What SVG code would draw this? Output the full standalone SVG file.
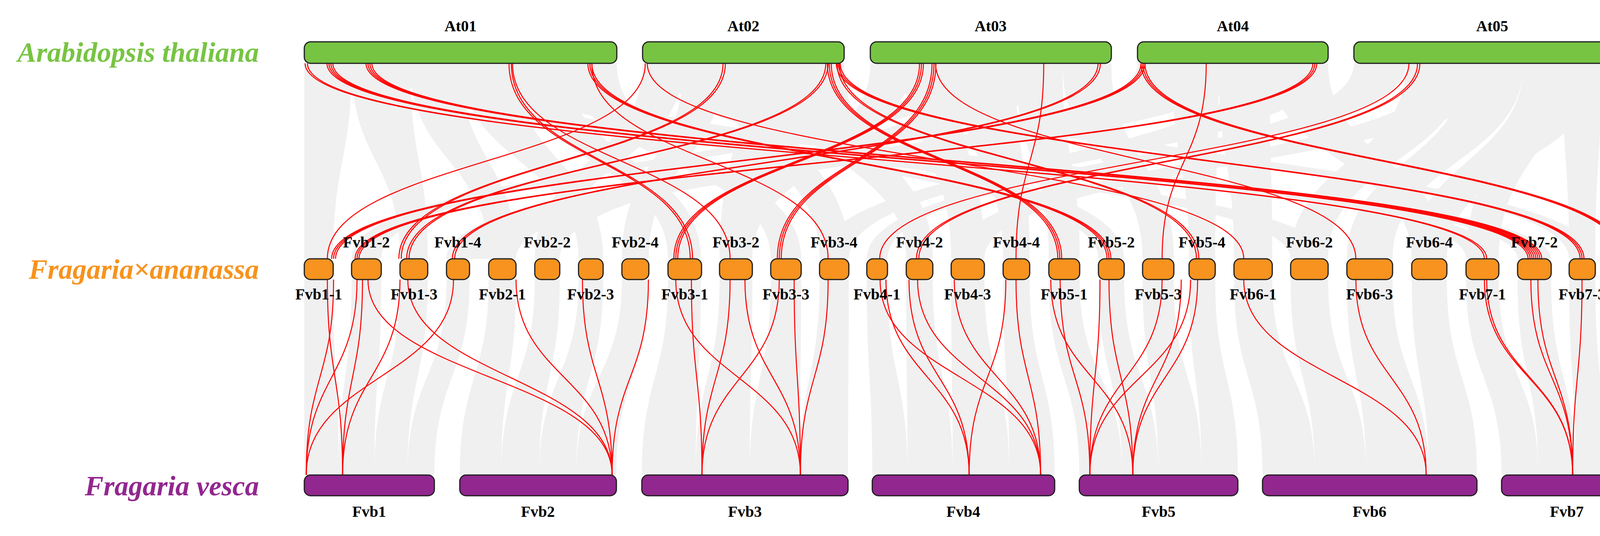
<svg xmlns="http://www.w3.org/2000/svg" width="4266" height="1371" viewBox="0 0 4266 1371">
<style>
.bg{fill:#F0F0F0;stroke:none}
.r{fill:none;stroke:#FF0000;stroke-width:2.6}
.at{fill:#77C443;stroke:#1E1E1E;stroke-width:3}
.fa{fill:#F7931E;stroke:#1E1E1E;stroke-width:3}
.fv{fill:#92278F;stroke:#1E1E1E;stroke-width:3}
.lbl{font-family:"Liberation Serif","Times New Roman",serif;font-weight:bold;font-size:40px;text-anchor:middle;fill:#000}
.sp{font-family:"Liberation Serif","Times New Roman",serif;font-weight:bold;font-style:italic;font-size:72px;text-anchor:end}
</style>
<rect width="4266" height="1371" fill="#FFFFFF"/>
<g id="ribbons">
<path class="bg" d="M779 162C779 412 779 412 779 662L853 662C853 412 900 412 900 162Z"/>
<path class="bg" d="M2400 162C2400 412 900 412 900 662L976 662C976 412 2520 412 2520 162Z"/>
<path class="bg" d="M900 162C900 412 1024 412 1024 662L1095 662C1095 412 1050 412 1050 162Z"/>
<path class="bg" d="M2912 162C2912 412 1143 412 1143 662L1202 662C1202 412 3000 412 3000 162Z"/>
<path class="bg" d="M1050 162C1050 412 1251 412 1251 662L1321 662C1321 412 1180 412 1180 162Z"/>
<path class="bg" d="M1645 162C1645 412 1369 412 1369 662L1433 662C1433 412 1750 412 1750 162Z"/>
<path class="bg" d="M1180 162C1180 412 1481 412 1481 662L1544 662C1544 412 1320 412 1320 162Z"/>
<path class="bg" d="M1750 162C1750 412 1592 412 1592 662L1661 662C1661 412 1850 412 1850 162Z"/>
<path class="bg" d="M1320 162C1320 412 1710 412 1710 662L1794 662C1794 412 1450 412 1450 162Z"/>
<path class="bg" d="M2228 162C2228 412 1842 412 1842 662L1926 662C1926 412 2330 412 2330 162Z"/>
<path class="bg" d="M1450 162C1450 412 1973 412 1973 662L2051 662C2051 412 1579 412 1579 162Z"/>
<path class="bg" d="M1850 162C1850 412 2098 412 2098 662L2173 662C2173 412 1980 412 1980 162Z"/>
<path class="bg" d="M3466 162C3466 412 2219 412 2219 662L2272 662C2272 412 3600 412 3600 162Z"/>
<path class="bg" d="M1980 162C1980 412 2320 412 2320 662L2388 662C2388 412 2161 412 2161 162Z"/>
<path class="bg" d="M2330 162C2330 412 2435 412 2435 662L2520 662C2520 412 2450 412 2450 162Z"/>
<path class="bg" d="M2450 162C2450 412 2568 412 2568 662L2636 662C2636 412 2600 412 2600 162Z"/>
<path class="bg" d="M2600 162C2600 412 2685 412 2685 662L2764 662C2764 412 2720 412 2720 162Z"/>
<path class="bg" d="M1380 162C1380 412 2812 412 2812 662L2878 662C2878 412 1500 412 1500 162Z"/>
<path class="bg" d="M2720 162C2720 412 2925 412 2925 662L3005 662C3005 412 2845 412 2845 162Z"/>
<path class="bg" d="M3000 162C3000 412 3044 412 3044 662L3111 662C3111 412 3120 412 3120 162Z"/>
<path class="bg" d="M3120 162C3120 412 3159 412 3159 662L3257 662C3257 412 3250 412 3250 162Z"/>
<path class="bg" d="M3600 162C3600 412 3304 412 3304 662L3400 662C3400 412 3750 412 3750 162Z"/>
<path class="bg" d="M3750 162C3750 412 3448 412 3448 662L3565 662C3565 412 3900 412 3900 162Z"/>
<path class="bg" d="M3250 162C3250 412 3614 412 3614 662L3704 662C3704 412 3400 412 3400 162Z"/>
<path class="bg" d="M3900 162C3900 412 3753 412 3753 662L3837 662C3837 412 4000 412 4000 162Z"/>
<path class="bg" d="M780 162C780 412 3885 412 3885 662L3971 662C3971 412 880 412 880 162Z"/>
<path class="bg" d="M4000 162C4000 412 4017 412 4017 662L4084 662C4084 412 4100 412 4100 162Z"/>
<path class="bg" d="M4100 162C4100 412 4132 412 4132 662L4193 662C4193 412 4175 412 4175 162Z"/>
<path class="bg" d="M1000 162C1000 412 3304 412 3304 662L3400 662C3400 412 1200 412 1200 162Z"/>
<path class="bg" d="M1700 162C1700 412 2812 412 2812 662L2878 662C2878 412 1900 412 1900 162Z"/>
<path class="bg" d="M2500 162C2500 412 1369 412 1369 662L1433 662C1433 412 2700 412 2700 162Z"/>
<path class="bg" d="M3000 162C3000 412 1143 412 1143 662L1321 662C1321 412 3200 412 3200 162Z"/>
<path class="bg" d="M3700 162C3700 412 2435 412 2435 662L2520 662C2520 412 3900 412 3900 162Z"/>
<path class="bg" d="M3900 162C3900 412 3614 412 3614 662L3704 662C3704 412 4100 412 4100 162Z"/>
<path class="bg" d="M1200 162C1200 412 3753 412 3753 662L3837 662C3837 412 1400 412 1400 162Z"/>
<path class="bg" d="M1900 162C1900 412 1842 412 1842 662L1926 662C1926 412 2100 412 2100 162Z"/>
<path class="bg" d="M2250 162C2250 412 4017 412 4017 662L4084 662C4084 412 2400 412 2400 162Z"/>
<path class="bg" d="M3200 162C3200 412 2098 412 2098 662L2173 662C2173 412 3400 412 3400 162Z"/>
<path class="bg" d="M779 715C779 965 779 965 779 1215L867 1215C867 965 853 965 853 715Z"/>
<path class="bg" d="M900 715C900 965 867 965 867 1215L958 1215C958 965 976 965 976 715Z"/>
<path class="bg" d="M1024 715C1024 965 958 965 958 1215L1043 1215C1043 965 1095 965 1095 715Z"/>
<path class="bg" d="M1143 715C1143 965 1043 965 1043 1215L1112 1215C1112 965 1202 965 1202 715Z"/>
<path class="bg" d="M1251 715C1251 965 1177 965 1177 1215L1283 1215C1283 965 1321 965 1321 715Z"/>
<path class="bg" d="M1369 715C1369 965 1283 965 1283 1215L1380 1215C1380 965 1433 965 1433 715Z"/>
<path class="bg" d="M1481 715C1481 965 1380 965 1380 1215L1475 1215C1475 965 1544 965 1544 715Z"/>
<path class="bg" d="M1592 715C1592 965 1475 965 1475 1215L1578 1215C1578 965 1661 965 1661 715Z"/>
<path class="bg" d="M1710 715C1710 965 1643 965 1643 1215L1781 1215C1781 965 1794 965 1794 715Z"/>
<path class="bg" d="M1842 715C1842 965 1781 965 1781 1215L1919 1215C1919 965 1926 965 1926 715Z"/>
<path class="bg" d="M1973 715C1973 965 1919 965 1919 1215L2047 1215C2047 965 2051 965 2051 715Z"/>
<path class="bg" d="M2098 715C2098 965 2047 965 2047 1215L2171 1215C2171 965 2173 965 2173 715Z"/>
<path class="bg" d="M2219 715C2219 965 2233 965 2233 1215L2323 1215C2323 965 2272 965 2272 715Z"/>
<path class="bg" d="M2320 715C2320 965 2323 965 2323 1215L2439 1215C2439 965 2388 965 2388 715Z"/>
<path class="bg" d="M2435 715C2435 965 2439 965 2439 1215L2584 1215C2584 965 2520 965 2520 715Z"/>
<path class="bg" d="M2568 715C2568 965 2584 965 2584 1215L2700 1215C2700 965 2636 965 2636 715Z"/>
<path class="bg" d="M2685 715C2685 965 2763 965 2763 1215L2873 1215C2873 965 2764 965 2764 715Z"/>
<path class="bg" d="M2812 715C2812 965 2873 965 2873 1215L2965 1215C2965 965 2878 965 2878 715Z"/>
<path class="bg" d="M2925 715C2925 965 2965 965 2965 1215L3076 1215C3076 965 3005 965 3005 715Z"/>
<path class="bg" d="M3044 715C3044 965 3076 965 3076 1215L3169 1215C3169 965 3111 965 3111 715Z"/>
<path class="bg" d="M3159 715C3159 965 3232 965 3232 1215L3366 1215C3366 965 3257 965 3257 715Z"/>
<path class="bg" d="M3304 715C3304 965 3366 965 3366 1215L3497 1215C3497 965 3400 965 3400 715Z"/>
<path class="bg" d="M3448 715C3448 965 3497 965 3497 1215L3657 1215C3657 965 3565 965 3565 715Z"/>
<path class="bg" d="M3614 715C3614 965 3657 965 3657 1215L3781 1215C3781 965 3704 965 3704 715Z"/>
<path class="bg" d="M3753 715C3753 965 3844 965 3844 1215L3938 1215C3938 965 3837 965 3837 715Z"/>
<path class="bg" d="M3885 715C3885 965 3938 965 3938 1215L4034 1215C4034 965 3971 965 3971 715Z"/>
<path class="bg" d="M4017 715C4017 965 4034 965 4034 1215L4109 1215C4109 965 4084 965 4084 715Z"/>
<path class="bg" d="M4132 715C4132 965 4109 965 4109 1215L4178 1215C4178 965 4193 965 4193 715Z"/>
</g>
<g id="connectors">
<path class="r" d="M1652 162C1652 412 838 412 838 662"/>
<path class="r" d="M2921 162C2921 412 849 412 849 662"/>
<path class="r" d="M2926 162C2926 412 854 412 854 662"/>
<path class="r" d="M2931 162C2931 412 859 412 859 662"/>
<path class="r" d="M3361 162C3361 412 909 412 909 662"/>
<path class="r" d="M3366 162C3366 412 914 412 914 662"/>
<path class="r" d="M3371 162C3371 412 919 412 919 662"/>
<path class="r" d="M1851 162C1851 412 1021 412 1021 662"/>
<path class="r" d="M1857 162C1857 412 1027 412 1027 662"/>
<path class="r" d="M2114 162C2114 412 1041 412 1041 662"/>
<path class="r" d="M2120 162C2120 412 1047 412 1047 662"/>
<path class="r" d="M2811 162C2811 412 1158 412 1158 662"/>
<path class="r" d="M2817 162C2817 412 1164 412 1164 662"/>
<path class="r" d="M2354 162C2354 412 1725 412 1725 662"/>
<path class="r" d="M2359 162C2359 412 1730 412 1730 662"/>
<path class="r" d="M2364 162C2364 412 1735 412 1735 662"/>
<path class="r" d="M1303 162C1303 412 1767 412 1767 662"/>
<path class="r" d="M1309 162C1309 412 1773 412 1773 662"/>
<path class="r" d="M1312 162C1312 412 1869 412 1869 662"/>
<path class="r" d="M2386 162C2386 412 1990 412 1990 662"/>
<path class="r" d="M2391 162C2391 412 1995 412 1995 662"/>
<path class="r" d="M2396 162C2396 412 2000 412 2000 662"/>
<path class="r" d="M1515 162C1515 412 2120 412 2120 662"/>
<path class="r" d="M3607 162C3607 412 2252 412 2252 662"/>
<path class="r" d="M3629 162C3629 412 2346 412 2346 662"/>
<path class="r" d="M3635 162C3635 412 2352 412 2352 662"/>
<path class="r" d="M2672 162C2672 412 2601 412 2601 662"/>
<path class="r" d="M2118 162C2118 412 2708 412 2708 662"/>
<path class="r" d="M2123 162C2123 412 2713 412 2713 662"/>
<path class="r" d="M2128 162C2128 412 2718 412 2718 662"/>
<path class="r" d="M1505 162C1505 412 2834 412 2834 662"/>
<path class="r" d="M1510 162C1510 412 2839 412 2839 662"/>
<path class="r" d="M1515 162C1515 412 2844 412 2844 662"/>
<path class="r" d="M3088 162C3088 412 2975 412 2975 662"/>
<path class="r" d="M2143 162C2143 412 3063 412 3063 662"/>
<path class="r" d="M2149 162C2149 412 3069 412 3069 662"/>
<path class="r" d="M1657 162C1657 412 3184 412 3184 662"/>
<path class="r" d="M2395 162C2395 412 3471 412 3471 662"/>
<path class="r" d="M781 162C781 412 3800 412 3800 662"/>
<path class="r" d="M787 162C787 412 3806 412 3806 662"/>
<path class="r" d="M837 162C837 412 3912 412 3912 662"/>
<path class="r" d="M842 162C842 412 3917 412 3917 662"/>
<path class="r" d="M847 162C847 412 3922 412 3922 662"/>
<path class="r" d="M852 162C852 412 3927 412 3927 662"/>
<path class="r" d="M937 162C937 412 3932 412 3932 662"/>
<path class="r" d="M942 162C942 412 3937 412 3937 662"/>
<path class="r" d="M947 162C947 412 3942 412 3942 662"/>
<path class="r" d="M952 162C952 412 3947 412 3947 662"/>
<path class="r" d="M2141 162C2141 412 4045 412 4045 662"/>
<path class="r" d="M2146 162C2146 412 4050 412 4050 662"/>
<path class="r" d="M2151 162C2151 412 4055 412 4055 662"/>
<path class="r" d="M2921 162C2921 412 4156 412 4156 662"/>
<path class="r" d="M2926 162C2926 412 4161 412 4161 662"/>
<path class="r" d="M2931 162C2931 412 4166 412 4166 662"/>
<path class="r" d="M838 715C838 965 877 965 877 1215"/>
<path class="r" d="M854 715C854 965 784 965 784 1215"/>
<path class="r" d="M914 715C914 965 784 965 784 1215"/>
<path class="r" d="M928 715C928 965 877 965 877 1215"/>
<path class="r" d="M942 715C942 965 1567 965 1567 1215"/>
<path class="r" d="M1024 715C1024 965 877 965 877 1215"/>
<path class="r" d="M1044 715C1044 965 1567 965 1567 1215"/>
<path class="r" d="M1161 715C1161 965 784 965 784 1215"/>
<path class="r" d="M1321 715C1321 965 1567 965 1567 1215"/>
<path class="r" d="M1491 715C1491 965 1567 965 1567 1215"/>
<path class="r" d="M1660 715C1660 965 1567 965 1567 1215"/>
<path class="r" d="M1730 715C1730 965 2049 965 2049 1215"/>
<path class="r" d="M1770 715C1770 965 1797 965 1797 1215"/>
<path class="r" d="M1869 715C1869 965 1797 965 1797 1215"/>
<path class="r" d="M1907 715C1907 965 2049 965 2049 1215"/>
<path class="r" d="M1995 715C1995 965 1797 965 1797 1215"/>
<path class="r" d="M2033 715C2033 965 2049 965 2049 1215"/>
<path class="r" d="M2120 715C2120 965 2049 965 2049 1215"/>
<path class="r" d="M2253 715C2253 965 2664 965 2664 1215"/>
<path class="r" d="M2268 715C2268 965 2481 965 2481 1215"/>
<path class="r" d="M2327 715C2327 965 2481 965 2481 1215"/>
<path class="r" d="M2349 715C2349 965 2664 965 2664 1215"/>
<path class="r" d="M2443 715C2443 965 2664 965 2664 1215"/>
<path class="r" d="M2575 715C2575 965 2481 965 2481 1215"/>
<path class="r" d="M2601 715C2601 965 2664 965 2664 1215"/>
<path class="r" d="M2690 715C2690 965 2900 965 2900 1215"/>
<path class="r" d="M2714 715C2714 965 2790 965 2790 1215"/>
<path class="r" d="M2816 715C2816 965 2790 965 2790 1215"/>
<path class="r" d="M2839 715C2839 965 2900 965 2900 1215"/>
<path class="r" d="M2975 715C2975 965 2790 965 2790 1215"/>
<path class="r" d="M3024 715C3024 965 2900 965 2900 1215"/>
<path class="r" d="M3048 715C3048 965 2790 965 2790 1215"/>
<path class="r" d="M3066 715C3066 965 2900 965 2900 1215"/>
<path class="r" d="M3184 715C3184 965 3651 965 3651 1215"/>
<path class="r" d="M3471 715C3471 965 3651 965 3651 1215"/>
<path class="r" d="M3800 715C3800 965 4026 965 4026 1215"/>
<path class="r" d="M3806 715C3806 965 4026 965 4026 1215"/>
<path class="r" d="M3919 715C3919 965 4026 965 4026 1215"/>
<path class="r" d="M3937 715C3937 965 4026 965 4026 1215"/>
<path class="r" d="M4050 715C4050 965 4026 965 4026 1215"/>
</g>
<g id="species">
<text class="sp" x="663" y="158" fill="#77C443">Arabidopsis thaliana</text>
<text class="sp" x="663" y="713" fill="#F7931E">Fragaria×ananassa</text>
<text class="sp" x="663" y="1267" fill="#92278F">Fragaria vesca</text>
</g>
<g id="At01"><rect class="at" x="779" y="107" width="800" height="55" rx="16"/><text class="lbl" x="1179" y="80">At01</text></g>
<g id="At02"><rect class="at" x="1645" y="107" width="516" height="55" rx="16"/><text class="lbl" x="1903" y="80">At02</text></g>
<g id="At03"><rect class="at" x="2228" y="107" width="617" height="55" rx="16"/><text class="lbl" x="2536" y="80">At03</text></g>
<g id="At04"><rect class="at" x="2912" y="107" width="488" height="55" rx="16"/><text class="lbl" x="3156" y="80">At04</text></g>
<g id="At05"><rect class="at" x="3466" y="107" width="709" height="55" rx="16"/><text class="lbl" x="3820" y="80">At05</text></g>
<g id="Fvb1-1"><rect class="fa" x="779" y="662" width="74" height="53" rx="16"/><text class="lbl" x="816" y="766">Fvb1-1</text></g>
<g id="Fvb1-2"><rect class="fa" x="900" y="662" width="76" height="53" rx="16"/><text class="lbl" x="938" y="633">Fvb1-2</text></g>
<g id="Fvb1-3"><rect class="fa" x="1024" y="662" width="71" height="53" rx="16"/><text class="lbl" x="1060" y="766">Fvb1-3</text></g>
<g id="Fvb1-4"><rect class="fa" x="1143" y="662" width="59" height="53" rx="16"/><text class="lbl" x="1172" y="633">Fvb1-4</text></g>
<g id="Fvb2-1"><rect class="fa" x="1251" y="662" width="70" height="53" rx="16"/><text class="lbl" x="1286" y="766">Fvb2-1</text></g>
<g id="Fvb2-2"><rect class="fa" x="1369" y="662" width="64" height="53" rx="16"/><text class="lbl" x="1401" y="633">Fvb2-2</text></g>
<g id="Fvb2-3"><rect class="fa" x="1481" y="662" width="63" height="53" rx="16"/><text class="lbl" x="1512" y="766">Fvb2-3</text></g>
<g id="Fvb2-4"><rect class="fa" x="1592" y="662" width="69" height="53" rx="16"/><text class="lbl" x="1626" y="633">Fvb2-4</text></g>
<g id="Fvb3-1"><rect class="fa" x="1710" y="662" width="86" height="53" rx="16"/><text class="lbl" x="1753" y="766">Fvb3-1</text></g>
<g id="Fvb3-2"><rect class="fa" x="1842" y="662" width="84" height="53" rx="16"/><text class="lbl" x="1884" y="633">Fvb3-2</text></g>
<g id="Fvb3-3"><rect class="fa" x="1973" y="662" width="78" height="53" rx="16"/><text class="lbl" x="2012" y="766">Fvb3-3</text></g>
<g id="Fvb3-4"><rect class="fa" x="2098" y="662" width="75" height="53" rx="16"/><text class="lbl" x="2135" y="633">Fvb3-4</text></g>
<g id="Fvb4-1"><rect class="fa" x="2219" y="662" width="53" height="53" rx="16"/><text class="lbl" x="2245" y="766">Fvb4-1</text></g>
<g id="Fvb4-2"><rect class="fa" x="2320" y="662" width="68" height="53" rx="16"/><text class="lbl" x="2354" y="633">Fvb4-2</text></g>
<g id="Fvb4-3"><rect class="fa" x="2435" y="662" width="85" height="53" rx="16"/><text class="lbl" x="2477" y="766">Fvb4-3</text></g>
<g id="Fvb4-4"><rect class="fa" x="2568" y="662" width="68" height="53" rx="16"/><text class="lbl" x="2602" y="633">Fvb4-4</text></g>
<g id="Fvb5-1"><rect class="fa" x="2685" y="662" width="79" height="53" rx="16"/><text class="lbl" x="2724" y="766">Fvb5-1</text></g>
<g id="Fvb5-2"><rect class="fa" x="2812" y="662" width="66" height="53" rx="16"/><text class="lbl" x="2845" y="633">Fvb5-2</text></g>
<g id="Fvb5-3"><rect class="fa" x="2925" y="662" width="80" height="53" rx="16"/><text class="lbl" x="2965" y="766">Fvb5-3</text></g>
<g id="Fvb5-4"><rect class="fa" x="3044" y="662" width="67" height="53" rx="16"/><text class="lbl" x="3077" y="633">Fvb5-4</text></g>
<g id="Fvb6-1"><rect class="fa" x="3159" y="662" width="98" height="53" rx="16"/><text class="lbl" x="3208" y="766">Fvb6-1</text></g>
<g id="Fvb6-2"><rect class="fa" x="3304" y="662" width="96" height="53" rx="16"/><text class="lbl" x="3352" y="633">Fvb6-2</text></g>
<g id="Fvb6-3"><rect class="fa" x="3448" y="662" width="117" height="53" rx="16"/><text class="lbl" x="3506" y="766">Fvb6-3</text></g>
<g id="Fvb6-4"><rect class="fa" x="3614" y="662" width="90" height="53" rx="16"/><text class="lbl" x="3659" y="633">Fvb6-4</text></g>
<g id="Fvb7-1"><rect class="fa" x="3753" y="662" width="84" height="53" rx="16"/><text class="lbl" x="3795" y="766">Fvb7-1</text></g>
<g id="Fvb7-2"><rect class="fa" x="3885" y="662" width="86" height="53" rx="16"/><text class="lbl" x="3928" y="633">Fvb7-2</text></g>
<g id="Fvb7-3"><rect class="fa" x="4017" y="662" width="67" height="53" rx="16"/><text class="lbl" x="4050" y="766">Fvb7-3</text></g>
<g id="Fvb7-4"><rect class="fa" x="4132" y="662" width="61" height="53" rx="16"/><text class="lbl" x="4162" y="633">Fvb7-4</text></g>
<g id="Fvb1"><rect class="fv" x="779" y="1215" width="333" height="53" rx="16"/><text class="lbl" x="945" y="1322">Fvb1</text></g>
<g id="Fvb2"><rect class="fv" x="1177" y="1215" width="401" height="53" rx="16"/><text class="lbl" x="1377" y="1322">Fvb2</text></g>
<g id="Fvb3"><rect class="fv" x="1643" y="1215" width="528" height="53" rx="16"/><text class="lbl" x="1907" y="1322">Fvb3</text></g>
<g id="Fvb4"><rect class="fv" x="2233" y="1215" width="467" height="53" rx="16"/><text class="lbl" x="2466" y="1322">Fvb4</text></g>
<g id="Fvb5"><rect class="fv" x="2763" y="1215" width="406" height="53" rx="16"/><text class="lbl" x="2966" y="1322">Fvb5</text></g>
<g id="Fvb6"><rect class="fv" x="3232" y="1215" width="549" height="53" rx="16"/><text class="lbl" x="3506" y="1322">Fvb6</text></g>
<g id="Fvb7"><rect class="fv" x="3844" y="1215" width="334" height="53" rx="16"/><text class="lbl" x="4011" y="1322">Fvb7</text></g>
</svg>
